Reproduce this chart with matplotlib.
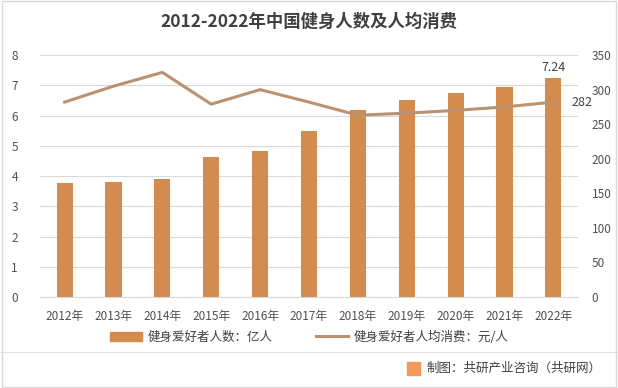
import numpy as np
import matplotlib.pyplot as plt
from matplotlib.patches import Rectangle
from matplotlib.lines import Line2D

plt.rcParams['font.family'] = ['Noto Sans CJK SC', 'DejaVu Sans']

# data
years = ['2012年', '2013年', '2014年', '2015年', '2016年', '2017年',
         '2018年', '2019年', '2020年', '2021年', '2022年']
people = [3.77, 3.80, 3.90, 4.63, 4.83, 5.49, 6.18, 6.51, 6.74, 6.94, 7.24]
spend = [282, 305, 325, 279, 300, 282, 263, 266, 270, 275, 282]

bar_color = '#D38B4E'
line_color = '#BB9271'
txt = '#505050'

fig = plt.figure(figsize=(6.18, 3.88), dpi=100)
fig.patches.append(Rectangle((0.003, 0.003), 0.994, 0.994, transform=fig.transFigure,
                             fill=False, edgecolor='#D9D9D9', linewidth=1))

ax = fig.add_axes([0.065, 0.2345, 0.87, 0.6235])
x = np.arange(len(years))
ax.bar(x, people, width=0.33, color=bar_color, zorder=2)
ax.set_ylim(0, 8)
ax.set_xlim(-0.5, len(years) - 0.5)
ax.set_yticks(range(0, 9))
ax.grid(axis='y', color='#D9D9D9', linewidth=0.8, zorder=0)
ax.set_axisbelow(True)
for s in ax.spines.values():
    s.set_visible(False)
ax.spines['bottom'].set_visible(True)
ax.spines['bottom'].set_color('#D9D9D9')
ax.set_xticks(x)
ax.set_xticklabels(years, fontweight='medium')
ax.tick_params(axis='both', length=0, labelsize=8.5, colors=txt)
ax.tick_params(axis='x', pad=9)
ax.tick_params(axis='y', pad=16)
ax.text(x[-1], people[-1] + 0.12, '7.24', ha='center', va='bottom', fontsize=9,
        color='#404040')

ax2 = ax.twinx()
ax2.plot(x, spend, color=line_color, linewidth=2.2, zorder=3)
ax2.set_ylim(0, 350)
ax2.set_yticks(range(0, 351, 50))
for s in ax2.spines.values():
    s.set_visible(False)
ax2.tick_params(axis='y', length=0, labelsize=8.5, colors=txt, pad=10)
ax2.text(x[-1] + 0.38, spend[-1], '282', ha='left', va='center', fontsize=9,
         color='#404040')

fig.text(0.5, 0.945, '2012-2022年中国健身人数及人均消费', ha='center', va='center',
         fontsize=12.5, fontweight='bold', color='#404040')

handles = [Rectangle((0, 0), 1, 1, color=bar_color),
           Line2D([0], [0], color=line_color, linewidth=2.2)]
fig.legend(handles, ['健身爱好者人数：亿人', '健身爱好者人均消费：元/人'],
           loc='center', bbox_to_anchor=(0.5, 0.131), ncol=2, frameon=False,
           fontsize=9, labelcolor='#404040', handlelength=2.6, columnspacing=3.5,
           handletextpad=0.4)

fig.add_artist(Line2D([0.0, 1.0], [0.093, 0.093], transform=fig.transFigure,
                      color='#E0E0E0', linewidth=0.8))
fig.patches.append(Rectangle((0.658, 0.033), 0.022, 0.035, transform=fig.transFigure,
                             color='#F39A5A'))
fig.text(0.69, 0.05, '制图：共研产业咨询（共研网）', ha='left', va='center',
         fontsize=9, color='#404040')

fig.savefig('out.png', dpi=100)
